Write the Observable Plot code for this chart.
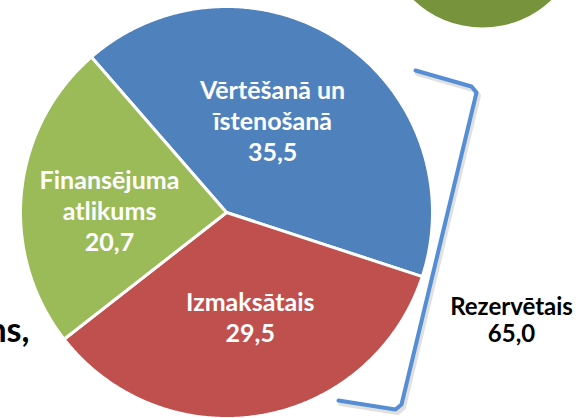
<!DOCTYPE html>
<html><head><meta charset="utf-8">
<script src="https://cdn.jsdelivr.net/npm/d3@7"></script>
<script src="https://cdn.jsdelivr.net/npm/@observablehq/plot@0.6"></script>
<style>
html,body{margin:0;padding:0;background:#fff;overflow:hidden}
#chart svg{display:block}
</style></head><body><div id="chart"></div>
<script>
// ---- data ----
const categories = ["Vērtēšanā un\nīstenošanā", "Izmaksātais", "Finansējuma\natlikums"];
const values = [35.5, 29.5, 20.7];
const colors = ["#4F81BD", "#C0504D", "#9BBB59"];
const reservedLabel = "Rezervētais";
const reservedIdx = [0, 1];
const leftFragment = "ns,";

// ---- layout ----
const W = 579, H = 418;
const cx = 226, cy = 212, R = 206;
const startDeg = -41;
const labelLayout = [{dAng: -7, k: 0.50}, {dAng: -3, k: 0.516}, {dAng: -4.5, k: 0.568}];
const font = "Lato, 'Open Sans', sans-serif";
const fmt = v => v.toFixed(1).replace(".", ",");
const rad = d => d * Math.PI / 180;
const polar = (deg, r) => ({x: cx + r * Math.sin(rad(deg)), y: cy - r * Math.cos(rad(deg))});

const total = d3.sum(values);
let acc = startDeg;
const slices = values.map((v, i) => {
  const a0 = acc, a1 = acc + v / total * 360; acc = a1;
  return {i, name: categories[i], value: v, a0, a1, color: colors[i]};
});

const slicePts = slices.flatMap(s => {
  const n = Math.ceil((s.a1 - s.a0) / 0.5);
  const pts = [{...polar(0, 0), k: s.i, color: s.color}];
  for (let j = 0; j <= n; j++) pts.push({...polar(s.a0 + (s.a1 - s.a0) * j / n, R), k: s.i, color: s.color});
  pts.push({...polar(0, 0), k: s.i, color: s.color});
  return pts;
});

const labels = slices.map(s => {
  const L = labelLayout[s.i];
  const p = polar((s.a0 + s.a1) / 2 + L.dAng, R * L.k);
  return {...p, text: s.name + "\n" + fmt(s.value)};
});

const reservedSum = d3.sum(reservedIdx, i => values[i]);
const reservedText = [{x: 511, y: 319, text: reservedLabel + "\n" + fmt(reservedSum)}];

const bracket = [
  {x: 415, y: 70}, {x: 471, y: 86}, {x: 476, y: 92}, {x: 401, y: 404}, {x: 395, y: 409}, {x: 338, y: 400}
];
const sideCircle = [{x: 482, y: -73}];
const fragment = [{x: 29, y: 331, text: leftFragment}];

const chart = Plot.plot({
  width: W, height: H, margin: 0,
  x: {domain: [0, W], range: [0, W], axis: null},
  y: {domain: [0, H], range: [0, H], axis: null},
  style: {background: "white"},
  marks: [
    Plot.dot(sideCircle, {x: "x", y: "y", r: 100, fill: "#77933C"}),
    Plot.line(slicePts, {x: "x", y: "y", z: "k", fill: "color", stroke: "white", strokeWidth: 3, strokeLinejoin: "round", curve: "linear"}),
    Plot.text(labels, {x: "x", y: "y", text: "text", fill: "white", fontWeight: "bold", fontSize: 25, fontFamily: font, lineHeight: 1.24}),
    Plot.line(bracket, {x: "x", y: "y", dx: 2, dy: 3, stroke: "#000", strokeOpacity: 0.12, strokeWidth: 5, strokeLinejoin: "round", strokeLinecap: "round"}),
    Plot.line(bracket, {x: "x", y: "y", stroke: "#558ED5", strokeWidth: 4, strokeLinejoin: "round", strokeLinecap: "round"}),
    Plot.text(reservedText, {x: "x", y: "y", text: "text", fill: "black", fontWeight: "bold", fontSize: 24, fontFamily: font, lineHeight: 1.15}),
    Plot.text(fragment, {x: "x", y: "y", text: "text", textAnchor: "end", fill: "black", fontWeight: "bold", fontSize: 34, fontFamily: font})
  ]
});
document.getElementById("chart").appendChild(chart);
</script></body></html>
